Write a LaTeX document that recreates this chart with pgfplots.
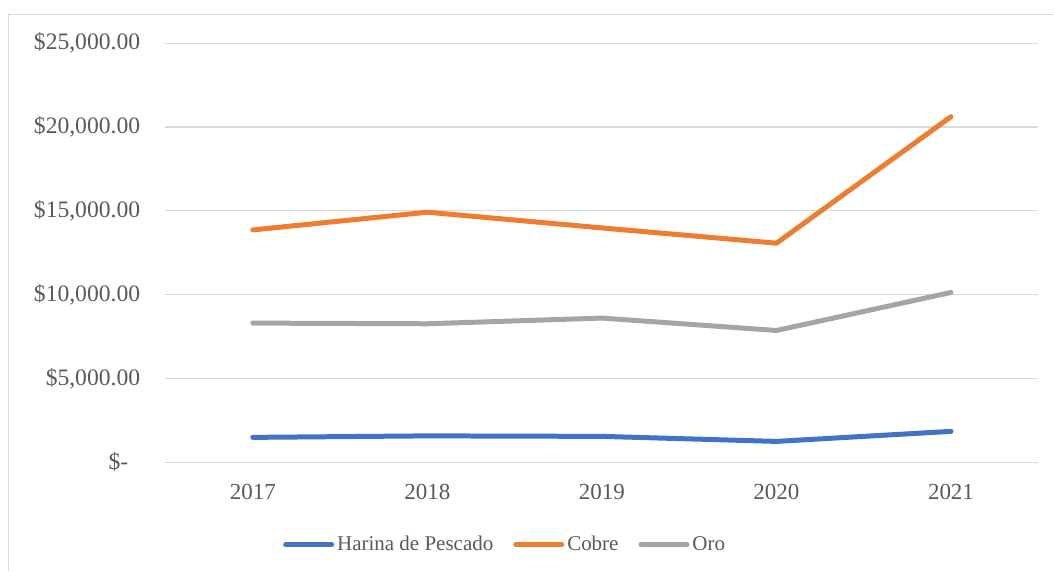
\documentclass[border=0pt]{standalone}
\usepackage{pgfplots}
\pgfplotsset{compat=1.18}
\usepackage{fontspec}
\setmainfont{Liberation Serif}
\definecolor{cBlue}{HTML}{4472C4}
\definecolor{cOrange}{HTML}{ED7D31}
\definecolor{cGray}{HTML}{A5A5A5}
\definecolor{cGrid}{HTML}{D9D9D9}
\definecolor{cText}{HTML}{595959}
\begin{document}
\begin{tikzpicture}
\fontsize{10.5pt}{12.5pt}\selectfont
\begin{axis}[
  at={(0,0)}, anchor=south west,
  scale only axis,
  width=436.7pt, height=209.6pt,
  xmin=2016.5, xmax=2021.5,
  ymin=0, ymax=25000,
  scaled ticks=false,
  axis line style={draw=none},
  xtick={2017,2018,2019,2020,2021},
  xticklabels={2017,2018,2019,2020,2021},
  ytick={0,5000,10000,15000,20000,25000},
  yticklabels={{\$-\hphantom{0}},{\$5,000.00},{\$10,000.00},{\$15,000.00},{\$20,000.00},{\$25,000.00}},
  major tick length=0pt,
  tick style={draw=none},
  ymajorgrids,
  grid style={cGrid, line width=0.65pt},
  tick label style={text=cText},
  yticklabel style={font=\fontsize{11.8pt}{14pt}\selectfont, anchor=east, inner sep=0pt, xshift=-12.5pt},
  xticklabel style={font=\fontsize{11.5pt}{14pt}\selectfont, anchor=base, inner sep=0pt, yshift=-18.75pt},
  legend columns=-1,
  legend style={at={(0.1344,-0.197)}, anchor=west, draw=none, fill=none,
    font=\fontsize{10.5pt}{12.5pt}\selectfont, text=cText,
    inner sep=0pt, nodes={inner sep=1.5pt},
    /tikz/every even column/.append style={column sep=8.5pt}},
  legend image code/.code={\draw[#1, line cap=round] (0pt,0pt) -- (23pt,0pt);},
  every axis plot/.append style={line width=2.5pt, line join=round, line cap=round},
  clip=false,
]
\addplot[cBlue] coordinates {(2017,1480) (2018,1570) (2019,1540) (2020,1240) (2021,1840)};
\addlegendentry{Harina de Pescado}
\addplot[cOrange] coordinates {(2017,13860) (2018,14920) (2019,13980) (2020,13070) (2021,20620)};
\addlegendentry{Cobre}
\addplot[cGray] coordinates {(2017,8300) (2018,8260) (2019,8600) (2020,7860) (2021,10130)};
\addlegendentry{Oro}
\end{axis}
\draw[cGrid, line width=0.75pt] (-78.55pt,-54.25pt) -- (-78.55pt,224pt) -- (444.2pt,224pt);
\path[use as bounding box] (-82.8pt,-54.25pt) rectangle (444.2pt,231.25pt);
\end{tikzpicture}
\end{document}
